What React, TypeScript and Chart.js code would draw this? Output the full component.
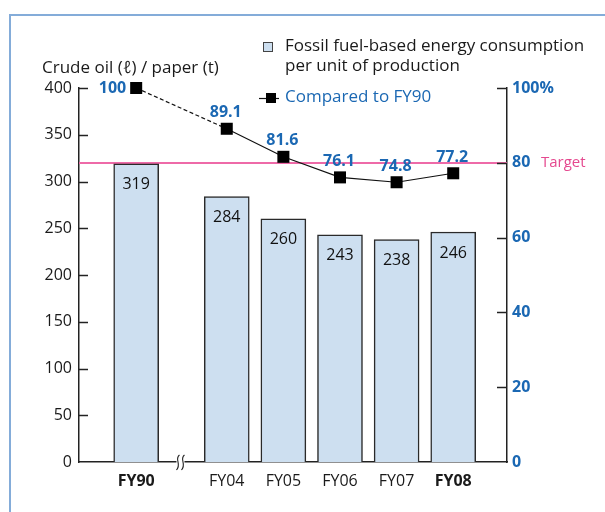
import React, { useEffect, useRef } from 'react';
import { Chart, registerables } from 'chart.js';

Chart.register(...registerables);

// ---- data ----
const categories = ['FY90', 'FY04', 'FY05', 'FY06', 'FY07', 'FY08'];
const boldCategories = ['FY90', 'FY08'];
const consumption = [319, 284, 260, 243, 238, 246];
const comparedToFY90 = [100, 89.1, 81.6, 76.1, 74.8, 77.2];
const comparedLabels = ['100', '89.1', '81.6', '76.1', '74.8', '77.2'];
const targetPercent = 80;
const leftAxisTitle = 'Crude oil (ℓ) / paper (t)';
const barLegend = ['Fossil fuel-based energy consumption', 'per unit of production'];
const lineLegend = 'Compared to FY90';
const targetLabel = 'Target';

// axis-break gap (in category units) between FY90 and FY04
const BREAK_GAP = 0.6;
const xPos = categories.map((_, i) => (i === 0 ? 0 : i + BREAK_GAP));

const F = '"Open Sans", sans-serif';
const BLUE = '#1b68b3';
const PINK_LINE = '#ee6aa8';
const PINK_TEXT = '#e5498f';
const BAR_FILL = '#cddff0';
const BAR_BORDER = '#2a2a2a';
const AXIS = '#222222';
const FRAME = '#84acd9';

const decoPlugin = {
  id: 'deco',
  beforeDraw(chart: any) {
    const { ctx, width, height } = chart;
    ctx.save();
    ctx.fillStyle = '#ffffff';
    ctx.fillRect(0, 0, width, height);
    ctx.strokeStyle = FRAME;
    ctx.lineWidth = 2;
    ctx.beginPath();
    ctx.moveTo(10, height);
    ctx.lineTo(10, 15);
    ctx.lineTo(width, 15);
    ctx.stroke();
    ctx.restore();
  },
  beforeDatasetsDraw(chart: any) {
    const { ctx, chartArea } = chart;
    const y1 = chart.scales.y1;
    const py = Math.round(y1.getPixelForValue(targetPercent));
    ctx.save();
    ctx.strokeStyle = PINK_LINE;
    ctx.lineWidth = 2;
    ctx.beginPath();
    ctx.moveTo(chartArea.left, py);
    ctx.lineTo(chartArea.right, py);
    ctx.stroke();
    ctx.restore();
  },
  afterDatasetsDraw(chart: any) {
    const { ctx } = chart;
    ctx.save();
    // bar value labels
    const barMeta = chart.getDatasetMeta(0);
    ctx.font = `16px ${F}`;
    ctx.fillStyle = '#111';
    ctx.textAlign = 'center';
    ctx.textBaseline = 'middle';
    barMeta.data.forEach((el: any, i: number) => {
      ctx.fillText(String(consumption[i]), el.x, el.y + 21);
    });
    // line point labels
    const lineMeta = chart.getDatasetMeta(1);
    ctx.font = `bold 16px ${F}`;
    ctx.fillStyle = BLUE;
    lineMeta.data.forEach((el: any, i: number) => {
      if (i === 0) {
        ctx.textAlign = 'right';
        ctx.fillText(comparedLabels[i], el.x - 10, el.y);
      } else {
        ctx.textAlign = 'center';
        ctx.fillText(comparedLabels[i], el.x - 1, el.y - 16);
      }
    });
    ctx.restore();
  },
  afterDraw(chart: any) {
    const { ctx, chartArea } = chart;
    const y = chart.scales.y;
    const y1 = chart.scales.y1;
    const x = chart.scales.x;
    ctx.save();
    // inward tick marks
    ctx.strokeStyle = AXIS;
    ctx.lineWidth = 1.5;
    y.ticks.forEach((t: any) => {
      if (t.value === 0) return;
      const py = Math.round(y.getPixelForValue(t.value)) + 0.5;
      ctx.beginPath();
      ctx.moveTo(chartArea.left, py);
      ctx.lineTo(chartArea.left + 9, py);
      ctx.stroke();
    });
    y1.ticks.forEach((t: any) => {
      if (t.value === 0) return;
      const py = Math.round(y1.getPixelForValue(t.value)) + 0.5;
      ctx.beginPath();
      ctx.moveTo(chartArea.right - 10, py);
      ctx.lineTo(chartArea.right, py);
      ctx.stroke();
    });
    // axis break mark between FY90 and FY04
    const bx = (x.getPixelForValue(xPos[0]) + x.getPixelForValue(xPos[1])) / 2 - 1;
    const by = chartArea.bottom;
    ctx.fillStyle = '#fff';
    ctx.fillRect(bx - 4, by - 2, 8, 4);
    ctx.lineWidth = 1.1;
    ctx.strokeStyle = AXIS;
    [bx - 2.5, bx + 2.5].forEach((sx) => {
      ctx.beginPath();
      ctx.moveTo(sx + 1.5, by - 7);
      ctx.bezierCurveTo(sx - 4, by - 3, sx + 4, by + 2, sx - 1.5, by + 8);
      ctx.stroke();
    });
    // left axis title
    ctx.font = `17px ${F}`;
    ctx.fillStyle = '#1a1a1a';
    ctx.textAlign = 'left';
    ctx.textBaseline = 'middle';
    ctx.fillText(leftAxisTitle, 42, 68);
    // bar legend
    ctx.fillStyle = BAR_FILL;
    ctx.fillRect(263, 42, 10, 10);
    ctx.strokeStyle = '#444';
    ctx.lineWidth = 1;
    ctx.strokeRect(263.5, 42.5, 9, 9);
    ctx.fillStyle = '#1a1a1a';
    ctx.fillText(barLegend[0], 285, 46);
    ctx.fillText(barLegend[1], 285, 66);
    // line legend
    ctx.strokeStyle = '#111';
    ctx.lineWidth = 1.2;
    ctx.beginPath();
    ctx.moveTo(259, 98.5);
    ctx.lineTo(279, 98.5);
    ctx.stroke();
    ctx.fillStyle = '#000';
    ctx.fillRect(266, 93, 10, 10);
    ctx.fillStyle = BLUE;
    ctx.fillText(lineLegend, 285, 97);
    // target label
    ctx.font = `15px ${F}`;
    ctx.fillStyle = PINK_TEXT;
    ctx.fillText(targetLabel, 541, y1.getPixelForValue(targetPercent));
    ctx.restore();
  },
};

export default function App() {
  const ref = useRef<HTMLCanvasElement>(null);
  useEffect(() => {
    if (!ref.current) return;
    const chart = new Chart(ref.current, {
      type: 'bar',
      data: {
        datasets: [
          {
            type: 'bar',
            label: barLegend.join(' '),
            data: consumption.map((v, i) => ({ x: xPos[i], y: v })),
            backgroundColor: BAR_FILL,
            borderColor: BAR_BORDER,
            borderWidth: 1.5,
            barThickness: 45,
            yAxisID: 'y',
            xAxisID: 'x',
            order: 2,
          } as any,
          {
            type: 'line',
            label: lineLegend,
            data: comparedToFY90.map((v, i) => ({ x: xPos[i], y: v })),
            borderColor: '#111',
            borderWidth: 1.2,
            pointStyle: 'rect',
            pointRadius: 8.5,
            pointBackgroundColor: '#000',
            pointBorderColor: '#000',
            pointBorderWidth: 0,
            yAxisID: 'y1',
            xAxisID: 'x',
            order: 1,
            clip: false,
            segment: {
              borderDash: (c: any) => (c.p0DataIndex === 0 ? [4, 2.5] : undefined),
            },
          } as any,
        ],
      },
      options: {
        animation: false,
        responsive: false,
        devicePixelRatio: 1,
        layout: { padding: { top: 88, left: 0, right: 0, bottom: 0 } },
        plugins: {
          legend: { display: false },
          tooltip: { enabled: false },
        },
        scales: {
          x: {
            type: 'linear',
            offset: false,
            min: -1.01,
            max: 6.55,
            grid: { display: false, offset: false },
            border: { display: true, color: AXIS, width: 1.5 },
            afterBuildTicks: (scale: any) => {
              scale.ticks = xPos.map((v) => ({ value: v }));
            },
            afterFit: (scale: any) => {
              scale.height = 50;
            },
            ticks: {
              autoSkip: false,
              maxRotation: 0,
              padding: 2,
              color: '#1a1a1a',
              font: (c: any) => ({
                family: F,
                size: 16,
                weight: boldCategories.includes(categories[c.index]) ? 'bold' : 'normal',
              }),
              callback: (_v: any, i: number) => categories[i],
            },
          },
          y: {
            type: 'linear',
            position: 'left',
            min: 0,
            max: 400,
            grid: { display: false, drawTicks: false },
            border: { display: true, color: AXIS, width: 1.5 },
            afterFit: (scale: any) => {
              scale.width = 79;
            },
            ticks: {
              stepSize: 50,
              padding: 7,
              color: '#1a1a1a',
              font: { family: F, size: 16 },
            },
          },
          y1: {
            type: 'linear',
            position: 'right',
            min: 0,
            max: 100,
            grid: { display: false, drawTicks: false },
            border: { display: true, color: AXIS, width: 1.5 },
            afterFit: (scale: any) => {
              scale.width = 98;
            },
            ticks: {
              stepSize: 20,
              padding: 5,
              color: BLUE,
              font: { family: F, size: 16, weight: 'bold' },
              callback: (v: any) => (v === 100 ? '100%' : String(v)),
            },
          },
        },
      },
      plugins: [decoPlugin],
    });
    return () => chart.destroy();
  }, []);
  return (
    <div style={{ position: 'absolute', left: 0, top: 0, width: 605, height: 512 }}>
      <canvas ref={ref} width={605} height={512} style={{ display: 'block' }} />
    </div>
  );
}
